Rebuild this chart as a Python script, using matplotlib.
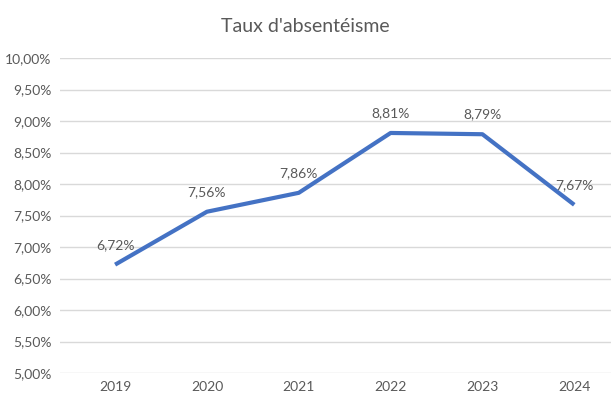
import matplotlib.pyplot as plt
from matplotlib.ticker import FuncFormatter

years = ["2019", "2020", "2021", "2022", "2023", "2024"]
rates = [6.72, 7.56, 7.86, 8.81, 8.79, 7.67]

plt.rcParams["font.family"] = ["Lato", "DejaVu Sans"]
text_color = "#595959"

fig = plt.figure(figsize=(6.11, 3.97), dpi=100)
W, H = 611, 397
ax = fig.add_axes([60 / W, 1 - 373 / H, (611 - 60) / W, (373 - 58) / H])

x = list(range(len(years)))
ax.plot(x, rates, color="#4472C4", lw=3.0, solid_capstyle="butt", zorder=3)
for xi, v in zip(x, rates):
    ax.annotate(f"{v:.2f}%".replace(".", ","), (xi, v), xytext=(0, 10),
                textcoords="offset points", ha="center", va="bottom",
                fontsize=10, color=text_color)

ax.set_ylim(5, 10)
ax.set_yticks([5 + 0.5 * i for i in range(11)])
ax.yaxis.set_major_formatter(FuncFormatter(lambda v, _: f"{v:.2f}%".replace(".", ",")))
ax.set_xlim(-0.6, 5.4)
ax.set_xticks(x)
ax.set_xticklabels(years)
ax.grid(axis="y", color="#d9d9d9", lw=1)
ax.set_axisbelow(True)
for s in ax.spines.values():
    s.set_visible(False)
ax.tick_params(length=0, labelsize=10, colors=text_color, pad=6)

fig.text(305 / W, 1 - 27 / H, "Taux d'absentéisme", ha="center", va="center",
         fontsize=14, color=text_color)

fig.savefig("out.png", dpi=100)
